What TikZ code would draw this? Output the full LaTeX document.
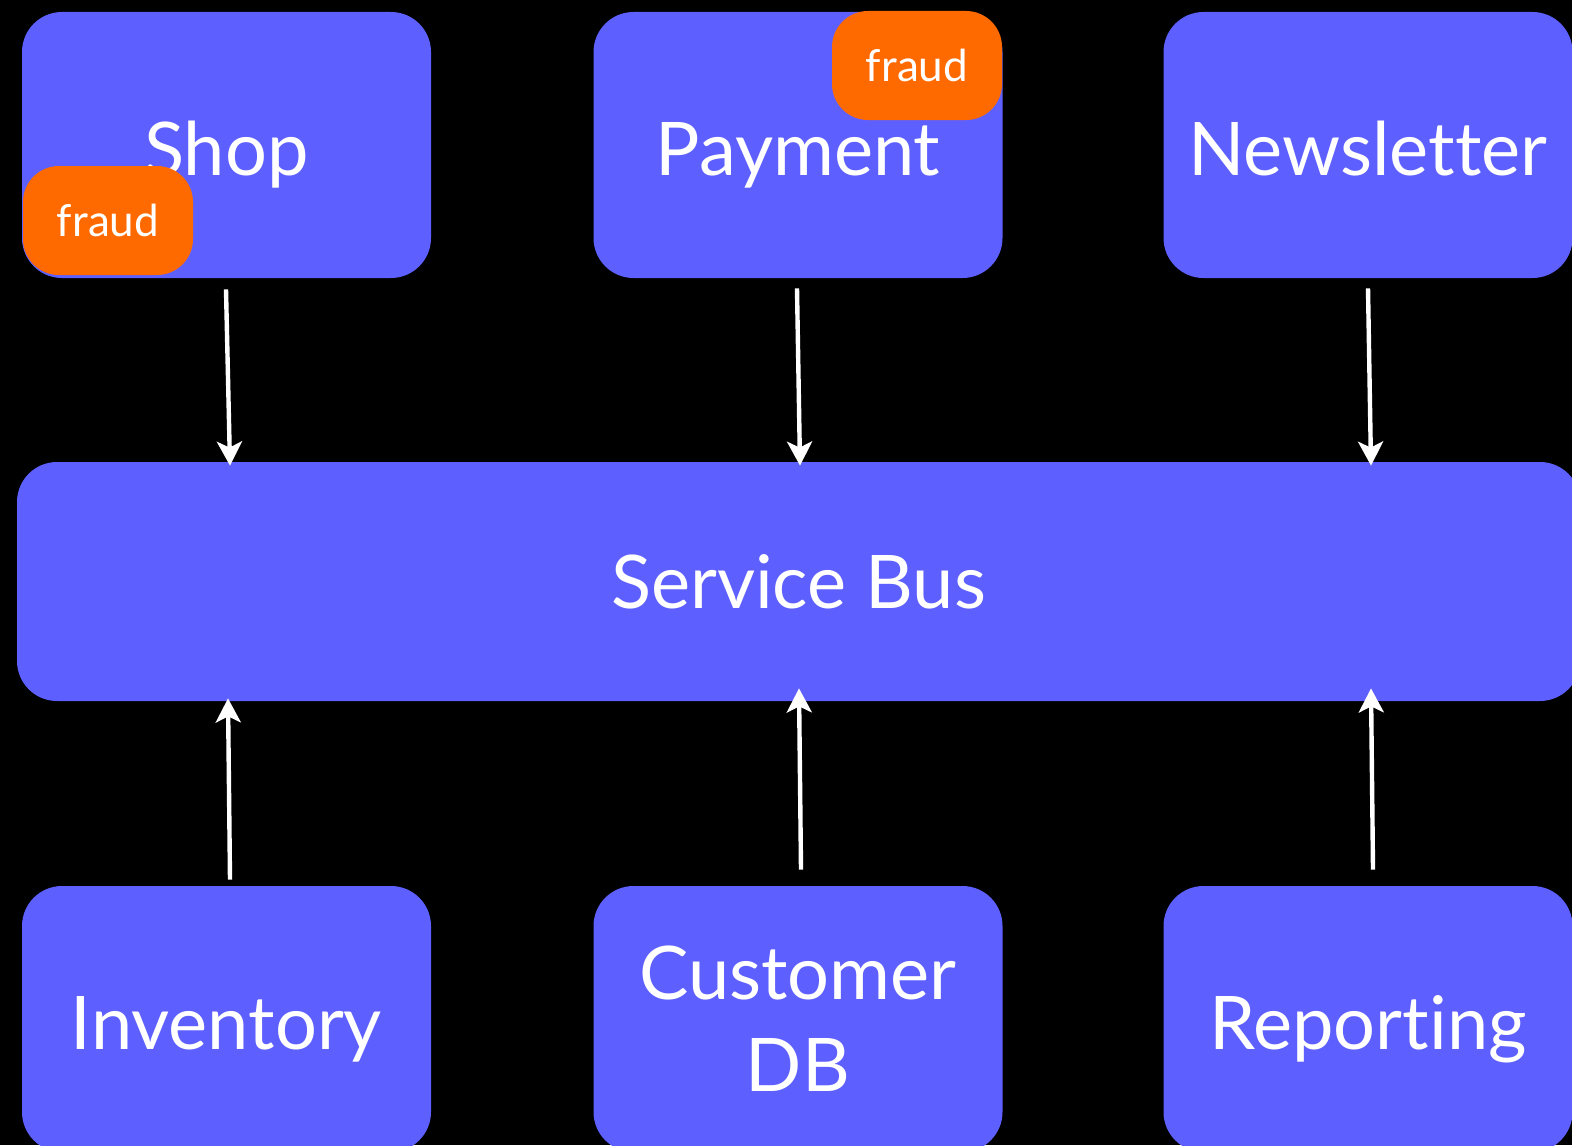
\documentclass[tikz,border=0pt]{standalone}
\usepackage{fontspec}
\setmainfont{Lato}[Ligatures=NoCommon]
\usetikzlibrary{arrows.meta}
\definecolor{svcblue}{RGB}{94,95,255}
\definecolor{fraudorange}{RGB}{255,106,0}
\tikzset{
  service/.style={fill=svcblue, rounded corners=20pt, minimum width=204.5pt, minimum height=133pt,
    inner sep=0pt, text=white, align=center, font=\fontsize{37}{46}\selectfont},
  oneline/.style={text height=30pt, text depth=0pt},
  badge/.style={fill=fraudorange, rounded corners=18pt, minimum width=85pt, minimum height=54.5pt,
    inner sep=0pt, text=white, font=\fontsize{22}{26}\selectfont},
  flow/.style={draw=white, line width=2.2pt, -{Stealth[length=12pt,width=12.5pt,inset=3pt]}}
}
\begin{document}
\begin{tikzpicture}[x=0.5pt,y=0.5pt,yscale=-1,xscale=1]
\useasboundingbox (0,0) rectangle (1572,1145);
\fill[black] (0,0) rectangle (1572,1145);
% services on top
\node[service, oneline] (shop) at (226.5,145) {Shop};
\node[service, oneline] (payment) at (798,145) {Payment};
\node[service, oneline] (newsletter) at (1368,145) {Newsletter};
% the bus
\node[service, minimum width=781.5pt, minimum height=119.5pt] (bus) at (798.5,581.5) {Service Bus};
% services below
\node[service, oneline] (inventory) at (226.5,1019) {Inventory};
\node[service] (customer) at (798,1019) {Customer\\DB};
\node[service, oneline] (reporting) at (1368,1019) {Reporting};
% fraud tags
\node[badge] (shopfraud) at (108,220.5) {fraud};
\node[badge] (payfraud) at (917,65.5) {fraud};
% arrows into the bus
\draw[flow] ([xshift=-0.25pt,yshift=5.5pt]shop.south) -- ([xshift=1.75pt,yshift=2pt]shop.south |- bus.north);
\draw[flow] ([xshift=-0.5pt,yshift=5pt]payment.south) -- ([xshift=1pt,yshift=2pt]payment.south |- bus.north);
\draw[flow] ([xshift=0pt,yshift=5pt]newsletter.south) -- ([xshift=1.5pt,yshift=2pt]newsletter.south |- bus.north);
\draw[flow] ([xshift=1.75pt,yshift=-3pt]inventory.north) -- ([xshift=0.75pt,yshift=-1.5pt]inventory.north |- bus.south);
\draw[flow] ([xshift=1.5pt,yshift=-8pt]customer.north) -- ([xshift=0.5pt,yshift=-6.5pt]customer.north |- bus.south);
\draw[flow] ([xshift=2.5pt,yshift=-8pt]reporting.north) -- ([xshift=1.5pt,yshift=-6.5pt]reporting.north |- bus.south);
\end{tikzpicture}
\end{document}
